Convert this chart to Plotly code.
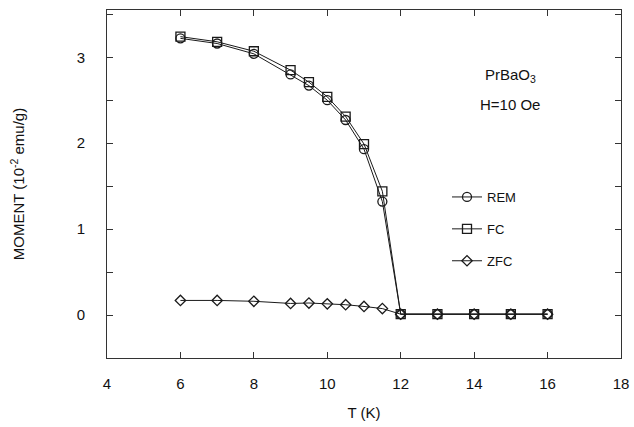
import plotly.graph_objects as go

T = [6, 7, 8, 9, 9.5, 10, 10.5, 11, 11.5, 12, 13, 14, 15, 16]
rem = [3.22, 3.16, 3.04, 2.80, 2.67, 2.50, 2.27, 1.93, 1.32, 0.01, 0.01, 0.01, 0.01, 0.01]
fc = [3.24, 3.18, 3.07, 2.85, 2.71, 2.54, 2.31, 1.99, 1.44, 0.01, 0.01, 0.01, 0.01, 0.01]
zfc = [0.17, 0.17, 0.16, 0.135, 0.14, 0.13, 0.12, 0.10, 0.075, 0.01, 0.01, 0.01, 0.01, 0.01]

xticks = [4, 6, 8, 10, 12, 14, 16, 18]
yticks = [0, 1, 2, 3]

FONT = "Liberation Sans, Arial, sans-serif"
INK = "#1a1a1a"

L, R, TOP, B = 107, 13, 10, 69
W, H = 634, 427
PW, PH = W - L - R, H - TOP - B

fig = go.Figure()
series = [("REM", rem, "circle-open", 9), ("FC", fc, "square-open", 9), ("ZFC", zfc, "diamond-open", 8)]
for name, ys, sym, sz in series:
    fig.add_trace(go.Scatter(
        x=T, y=ys, name=name, mode="lines+markers", legendgroup=name,
        line=dict(color=INK, width=1),
        marker=dict(symbol=sym, size=sz, color=INK, line=dict(color=INK, width=1.3)),
    ))

axis_common = dict(
    showline=True, linecolor="#333", linewidth=1, mirror="ticks",
    ticks="inside", ticklen=6, tickcolor="#333", showgrid=False, zeroline=False,
    tickfont=dict(family=FONT, size=15, color="#111"),
)
fig.update_xaxes(range=[4, 18], tickvals=xticks, ticklabelstandoff=12, **axis_common,
                 title=dict(text="T (K)", font=dict(family=FONT, size=15, color="#111"), standoff=16))
fig.update_yaxes(range=[-0.5, 3.55], tickvals=yticks, ticklabelstandoff=18, **axis_common,
                 minor=dict(dtick=0.5, tick0=0, ticks="inside", ticklen=6, tickcolor="#333"),
                 title=dict(text="MOMENT (10<sup>-2</sup> emu/g)", font=dict(family=FONT, size=15, color="#111"), standoff=48))

fig.add_annotation(xref="paper", yref="paper", x=(510 - L) / PW, y=1 - (75 - TOP) / PH,
                   xanchor="center", yanchor="middle",
                   text="PrBaO<sub>3</sub>", showarrow=False,
                   font=dict(family=FONT, size=15, color="#111"))
fig.add_annotation(xref="paper", yref="paper", x=(510 - L) / PW, y=1 - (104 - TOP) / PH,
                   xanchor="center", yanchor="middle",
                   text="H=10 Oe", showarrow=False,
                   font=dict(family=FONT, size=15, color="#111"))

fig.update_layout(
    width=W, height=H,
    margin=dict(l=L, r=R, t=TOP, b=B, autoexpand=False),
    paper_bgcolor="white", plot_bgcolor="white",
    legend=dict(x=(447 - L) / PW, y=1 - (182 - TOP) / PH, xanchor="left", yanchor="top",
                bgcolor="rgba(0,0,0,0)", tracegroupgap=12,
                font=dict(family=FONT, size=13, color="#111"), itemwidth=30),
    showlegend=True,
)

fig.write_html("out.html")
